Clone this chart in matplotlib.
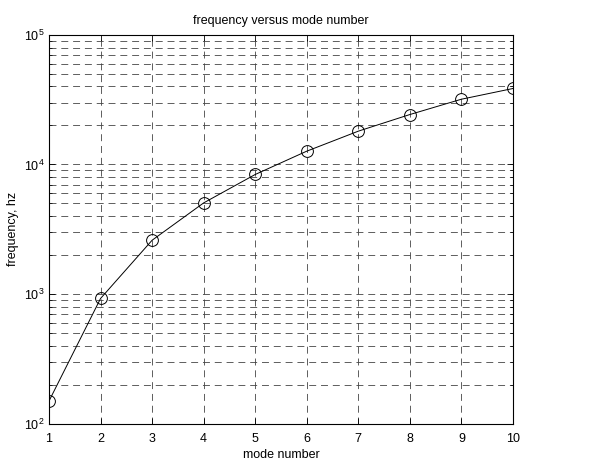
import numpy as np
import matplotlib
matplotlib.use('Agg')
import matplotlib.pyplot as plt
from matplotlib.ticker import LogLocator

plt.rcParams['font.family'] = ['Liberation Sans', 'DejaVu Sans']
plt.rcParams['font.size'] = 9
plt.rcParams['mathtext.fontset'] = 'custom'
plt.rcParams['mathtext.rm'] = 'Liberation Sans'
plt.rcParams['lines.scale_dashes'] = False

# mode numbers and frequencies
mode = [1, 2, 3, 4, 5, 6, 7, 8, 9, 10]
freq = [149, 923, 2600, 5050, 8370, 12670, 18080, 24300, 31900, 38600]

fig = plt.figure(figsize=(6.14, 4.66), dpi=100)
ax = fig.add_axes([0.0798, 0.0912, 0.7557, 0.8338])

ax.semilogy(mode, freq, '-', color='k', linewidth=0.7)
ax.semilogy(mode, freq, 'o', mfc='none', mec='k', markersize=8.5, markeredgewidth=0.7)

ax.set_xlim(1, 10)
ax.set_ylim(1e2, 1e5)
ax.set_xticks(range(1, 11))
ax.yaxis.set_major_locator(LogLocator(base=10))
ax.yaxis.set_minor_locator(LogLocator(base=10, subs=np.arange(2, 10)))

grid_kw = dict(color='#444444', linestyle=(0, (5, 3.5)), linewidth=0.6)
ax.grid(True, which='major', axis='both', **grid_kw)
ax.grid(True, which='minor', axis='y', **grid_kw)

ax.tick_params(which='both', direction='in', top=True, right=True)
ax.tick_params(which='major', length=4, width=0.6)
ax.tick_params(which='minor', length=2, width=0.5)
ax.tick_params(axis='x', pad=7)
for s in ax.spines.values():
    s.set_linewidth(0.8)

ax.set_title('frequency versus mode number', fontsize=9, pad=8)
ax.set_xlabel('mode number', fontsize=9, labelpad=3)
ax.set_ylabel('frequency, hz', fontsize=9, labelpad=3)

fig.savefig('out.png', dpi=100)
